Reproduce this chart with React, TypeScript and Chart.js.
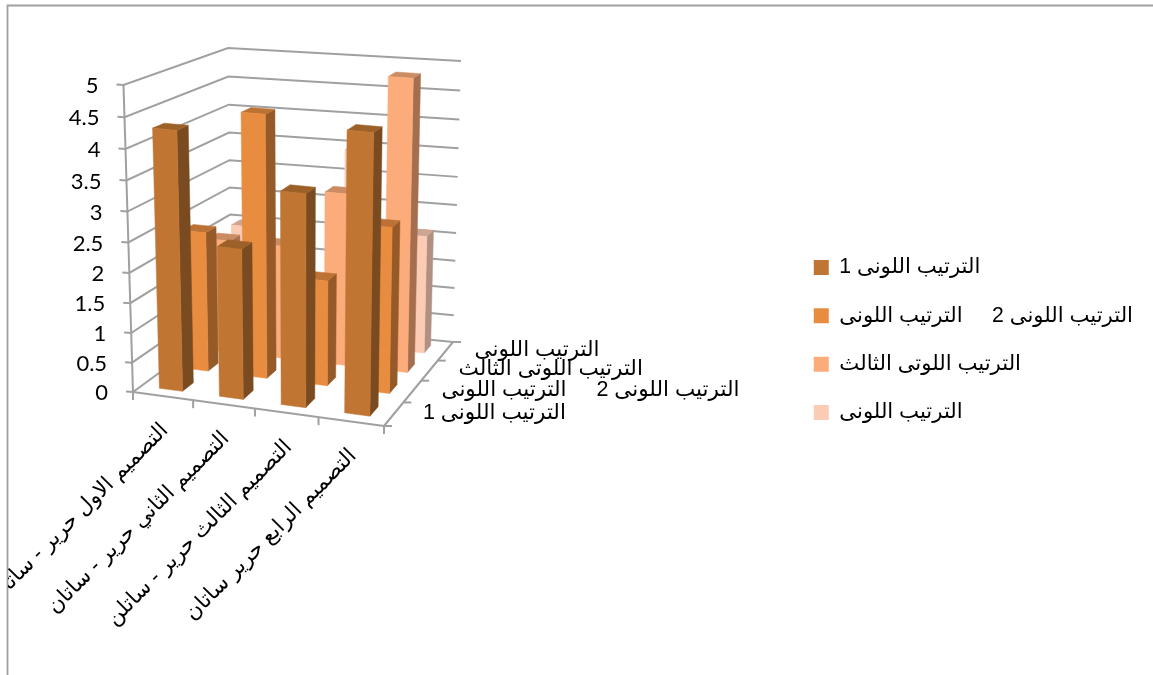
import React, { useEffect, useRef } from "react";
import { Chart, registerables } from "chart.js";

Chart.register(...registerables);

const categories = [
  "التصميم الاول حرير - ساتان",
  "التصميم الثاني حرير - ساتان",
  "التصميم الثالث حرير - ساتلن",
  "التصميم الرابع حرير ساتان",
];
const seriesNames = [
  "الترتيب اللونى 1",
  "الترتيب اللونى 2     الترتيب اللونى",
  "الترتيب اللوتى الثالث",
  "الترتيب اللونى",
];
const series1 = [4.3, 2.5, 3.5, 4.55];
const series2 = [2.4, 4.45, 1.8, 2.8];
const series3 = [2, 2, 3, 5];
const series4 = [2, 1, 3.5, 2.1];
const allSeries = [series1, series2, series3, series4];
const faceColors = ["#C07632", "#E88C40", "#FBAC7A", "#FCCBB4"];
const topColors = ["#9C6029", "#BC7234", "#CC8C63", "#CDA592"];
const sideColors = ["#7A4B20", "#955A28", "#A56F4F", "#B09080"];

const ARABIC = '"Liberation Sans", "DejaVu Sans", sans-serif';
const DIGITS = "Lato, sans-serif";
const GRAY = "#a0a0a0";

type Pt = [number, number];
// projected corners of the plot cube: [u][v][w]
const C: Record<string, Pt> = {
  "000": [133, 392], "100": [384, 426], "010": [123.5, 85], "110": [389, 109],
  "001": [231.5, 320], "101": [453, 342], "011": [228, 48], "111": [461, 61],
};
const persp = (x: number, a: number) => (a * x) / (1 + (a - 1) * x);
function P(u: number, v: number, w: number): Pt {
  const t = persp(u, 0.945), r = persp(v, 0.95), s = persp(w, 1.17);
  let x = 0, y = 0;
  for (const a of [0, 1]) for (const b of [0, 1]) for (const c of [0, 1]) {
    const k = (a ? t : 1 - t) * (b ? r : 1 - r) * (c ? s : 1 - s);
    const p = C[`${a}${b}${c}`];
    x += k * p[0];
    y += k * p[1];
  }
  return [x, y];
}
function line(ctx: CanvasRenderingContext2D, a: Pt, b: Pt) {
  ctx.beginPath();
  ctx.moveTo(a[0], a[1]);
  ctx.lineTo(b[0], b[1]);
  ctx.stroke();
}
function poly(ctx: CanvasRenderingContext2D, pts: Pt[], color: string) {
  ctx.beginPath();
  pts.forEach((p, i) => (i ? ctx.lineTo(p[0], p[1]) : ctx.moveTo(p[0], p[1])));
  ctx.closePath();
  ctx.fillStyle = color;
  ctx.strokeStyle = color;
  ctx.lineWidth = 0.5;
  ctx.fill();
  ctx.stroke();
}

const DEPTH_RATIO = 0.41;

const plugin3d = {
  id: "plot3d",
  beforeDatasetsDraw(chart: any) {
    const ctx: CanvasRenderingContext2D = chart.ctx;
    const { left, right, top, bottom } = chart.chartArea;
    const xs = chart.scales.x, ys = chart.scales.y;
    const U = (px: number) => (px - left) / (right - left);
    const V = (px: number) => (bottom - px) / (bottom - top);
    const rows = chart.data.datasets.length;

    ctx.save();
    // outer frame
    ctx.strokeStyle = GRAY;
    ctx.lineWidth = 1.8;
    ctx.beginPath();
    ctx.moveTo(7.5, chart.height);
    ctx.lineTo(7.5, 5.5);
    ctx.lineTo(chart.width, 5.5);
    ctx.stroke();

    // walls, gridlines and y axis
    ctx.lineWidth = 2;
    ctx.strokeStyle = GRAY;
    ctx.lineCap = "butt";
    ys.ticks.forEach((tk: any) => {
      const v = V(ys.getPixelForValue(tk.value));
      const a = P(0, v, 0), b = P(0, v, 1), c = P(1, v, 1);
      ctx.beginPath();
      ctx.moveTo(a[0] - 7, a[1] - 0.5);
      ctx.lineTo(a[0], a[1]);
      ctx.lineTo(b[0], b[1]);
      ctx.lineTo(c[0], c[1]);
      ctx.stroke();
      ctx.save();
      ctx.fillStyle = "#000";
      ctx.font = `22px ${DIGITS}`;
      ctx.textAlign = "right";
      ctx.textBaseline = "middle";
      ctx.fillText(tk.label, a[0] - 25, a[1] + 1);
      ctx.restore();
    });
    line(ctx, P(0, 0, 0), P(0, 1, 0));
    // floor front and side edges with ticks
    line(ctx, P(0, 0, 0), P(1, 0, 0));
    line(ctx, P(1, 0, 0), P(1, 0, 1));
    for (let i = 0; i <= categories.length; i++) {
      const p = P(i / categories.length, 0, 0);
      line(ctx, p, [p[0], p[1] + 8]);
    }
    for (let i = 0; i <= rows; i++) {
      const p = P(1, 0, i / rows);
      line(ctx, p, [p[0] + 8, p[1]]);
    }

    // bars, back row first
    for (let d = rows - 1; d >= 0; d--) {
      const meta = chart.getDatasetMeta(d);
      const w0 = (d + 0.5 - DEPTH_RATIO / 2) / rows;
      const w1 = (d + 0.5 + DEPTH_RATIO / 2) / rows;
      meta.data.forEach((el: any) => {
        const pr = el.getProps(["x", "y", "base", "width"], true);
        const u0 = U(pr.x - pr.width / 2), u1 = U(pr.x + pr.width / 2);
        const vt = V(pr.y), vb = V(pr.base);
        poly(ctx, [P(u1, vb, w0), P(u1, vb, w1), P(u1, vt, w1), P(u1, vt, w0)], sideColors[d]);
        poly(ctx, [P(u0, vt, w0), P(u1, vt, w0), P(u1, vt, w1), P(u0, vt, w1)], topColors[d]);
        poly(ctx, [P(u0, vb, w0), P(u1, vb, w0), P(u1, vt, w0), P(u0, vt, w0)], faceColors[d]);
      });
    }

    // category labels
    ctx.fillStyle = "#000";
    ctx.font = `21.5px ${ARABIC}`;
    (ctx as any).direction = "rtl";
    ctx.save();
    ctx.beginPath();
    ctx.rect(8, 0, chart.width, chart.height);
    ctx.clip();
    xs.getLabels().forEach((lab: string, i: number) => {
      const p = P(U(xs.getPixelForValue(i)), 0, 0);
      ctx.save();
      ctx.translate(p[0] + 2, p[1] + 31);
      ctx.rotate(-Math.PI / 4);
      ctx.textAlign = "left";
      ctx.textBaseline = "middle";
      ctx.fillText(lab, -ctx.measureText(lab).width, 0);
      ctx.restore();
    });
    ctx.restore();

    // depth axis labels
    chart.data.datasets.forEach((ds: any, i: number) => {
      const p = P(1, 0, (i + 0.5) / rows);
      ctx.textAlign = "left";
      ctx.textBaseline = "middle";
      ctx.fillText(ds.label, p[0] + 29, p[1] - 1);
    });
    ctx.restore();
    return false;
  },
};

export default function App() {
  const ref = useRef<HTMLCanvasElement>(null);
  useEffect(() => {
    const chart = new Chart(ref.current!, {
      type: "bar",
      data: {
        labels: categories,
        datasets: allSeries.map((data, i) => ({
          label: seriesNames[i],
          data,
          backgroundColor: faceColors[i],
          borderWidth: 0,
          grouped: false,
          barPercentage: 0.39,
          categoryPercentage: 1,
        })),
      },
      options: {
        animation: false,
        responsive: false,
        layout: { padding: { right: 10, top: 5 } },
        scales: {
          x: { display: false },
          y: {
            display: false,
            min: 0,
            max: 5,
            ticks: { stepSize: 0.5, callback: (v: number) => String(v) },
          },
        },
        plugins: {
          title: { display: false },
          tooltip: { enabled: false },
          legend: {
            position: "right",
            textDirection: "rtl",
            labels: {
              color: "#000",
              boxWidth: 15,
              boxHeight: 15,
              padding: 27.1,
              font: { family: ARABIC, size: 21.2 },
            },
          },
        },
      },
      plugins: [plugin3d],
    } as any);
    return () => chart.destroy();
  }, []);
  return (
    <canvas
      ref={ref}
      width={1153}
      height={675}
      style={{ position: "fixed", left: 0, top: 0, width: 1153, height: 675, background: "#fff" }}
    />
  );
}
